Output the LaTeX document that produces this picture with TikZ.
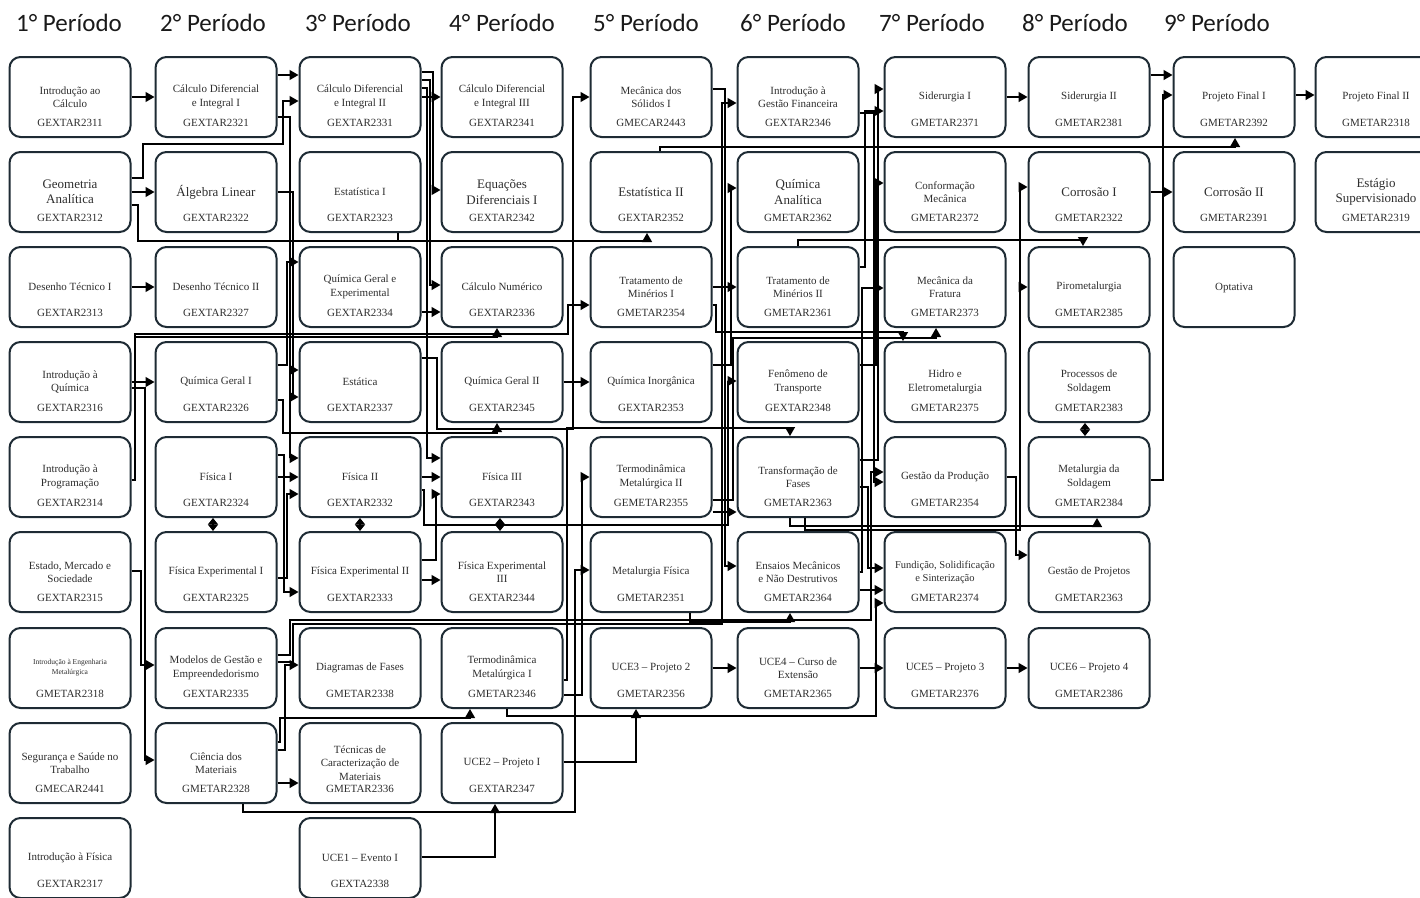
\documentclass[tikz,border=0pt]{standalone}
\usepackage{fontspec}
\setmainfont{Liberation Serif}
\newfontfamily\hdrfont{Carlito}
\usetikzlibrary{arrows.meta}
\definecolor{boxc}{HTML}{1E2B34}
\definecolor{txtc}{HTML}{2E2E2E}
\definecolor{hdrc}{HTML}{1A1A1A}
\newcommand{\crs}[6][]{%
  \node[box] (#2) at (#3,#4) {};
  \node[ttl,#1] (#2t) at (#3,#4) {#5};
  \node[cod] (#2c) at (#3,#4+26) {#6};
}
\begin{document}
\begin{tikzpicture}[x=1pt,y=-1pt,
  box/.style={draw=boxc, line width=2pt, rounded corners=11pt, minimum width=121pt, minimum height=80pt, inner sep=0pt},
  ttl/.style={align=center, font=\fontsize{11}{13.5}\selectfont, text=txtc, inner sep=0pt},
  cod/.style={font=\fontsize{11}{13}\selectfont, text=txtc, inner sep=0pt},
  big/.style={font=\fontsize{13}{15.5}\selectfont},
  tiny/.style={font=\fontsize{7.5}{10}\selectfont},
  arr/.style={line width=1.3pt, -{Triangle[length=9pt,width=10pt]}},
  ln/.style={line width=1.3pt},
  darr/.style={line width=1.3pt, {Triangle[length=6.5pt,width=10pt]}-{Triangle[length=6.5pt,width=10pt]}},
  hdr/.style={font=\hdrfont\fontsize{25}{30}\selectfont, text=hdrc, anchor=base, inner sep=0pt}]
\fill[white] (0,0) rectangle (1420,897);
\useasboundingbox (0,0) rectangle (1420,897);

% headers
\node[hdr] (p1) at (69,31) {1° Período};
\node[hdr] (p2) at (213,31) {2° Período};
\node[hdr] (p3) at (358,31) {3° Período};
\node[hdr] (p4) at (502,31) {4° Período};
\node[hdr] (p5) at (646,31) {5° Período};
\node[hdr] (p6) at (793,31) {6° Período};
\node[hdr] (p7) at (932,31) {7° Período};
\node[hdr] (p8) at (1075,31) {8° Período};
\node[hdr] (p9) at (1217,31) {9° Período};

% column 1
\crs{a1}{70}{97}{Introdução ao\\Cálculo}{GEXTAR2311}
\crs[big]{a2}{70}{192}{Geometria\\Analítica}{GEXTAR2312}
\crs{a3}{70}{287}{Desenho Técnico I}{GEXTAR2313}
\crs{a4}{70}{382}{Introdução à\\Química}{GEXTAR2316}
\crs{a5}{70}{477}{Introdução à\\Programação}{GEXTAR2314}
\crs{a6}{70}{572}{Estado, Mercado e\\Sociedade}{GEXTAR2315}
\crs[tiny]{a7}{70}{668}{Introdução à Engenharia\\Metalúrgica}{GMETAR2318}
\crs{a8}{70}{763}{Segurança e Saúde no\\Trabalho}{GMECAR2441}
\crs{a9}{70}{858}{Introdução à Física}{GEXTAR2317}
% column 2
\crs{b1}{216}{97}{Cálculo Diferencial\\e Integral I}{GEXTAR2321}
\crs[big]{b2}{216}{192}{Álgebra Linear}{GEXTAR2322}
\crs{b3}{216}{287}{Desenho Técnico II}{GEXTAR2327}
\crs{b4}{216}{382}{Química Geral I}{GEXTAR2326}
\crs{b5}{216}{477}{Física I}{GEXTAR2324}
\crs{b6}{216}{572}{Física Experimental I}{GEXTAR2325}
\crs{b7}{216}{668}{Modelos de Gestão e\\Empreendedorismo}{GEXTAR2335}
\crs{b8}{216}{763}{Ciência dos\\Materiais}{GMETAR2328}
% column 3
\crs{c1}{360}{97}{Cálculo Diferencial\\e Integral II}{GEXTAR2331}
\crs{c2}{360}{192}{Estatística I}{GEXTAR2323}
\crs{c3}{360}{287}{Química Geral e\\Experimental}{GEXTAR2334}
\crs{c4}{360}{382}{Estática}{GEXTAR2337}
\crs{c5}{360}{477}{Física II}{GEXTAR2332}
\crs{c6}{360}{572}{Física Experimental II}{GEXTAR2333}
\crs{c7}{360}{668}{Diagramas de Fases}{GMETAR2338}
\crs{c8}{360}{763}{Técnicas de\\Caracterização de\\Materiais}{GMETAR2336}
\crs{c9}{360}{858}{UCE1 – Evento I}{GEXTA2338}
% column 4
\crs{d1}{502}{97}{Cálculo Diferencial\\e Integral III}{GEXTAR2341}
\crs[big]{d2}{502}{192}{Equações\\Diferenciais I}{GEXTAR2342}
\crs{d3}{502}{287}{Cálculo Numérico}{GEXTAR2336}
\crs{d4}{502}{382}{Química Geral II}{GEXTAR2345}
\crs{d5}{502}{477}{Física III}{GEXTAR2343}
\crs{d6}{502}{572}{Física Experimental\\III}{GEXTAR2344}
\crs{d7}{502}{668}{Termodinâmica\\Metalúrgica I}{GMETAR2346}
\crs{d8}{502}{763}{UCE2 – Projeto I}{GEXTAR2347}
% column 5
\crs{e1}{651}{97}{Mecânica dos\\Sólidos I}{GMECAR2443}
\crs[big]{e2}{651}{192}{Estatística II}{GEXTAR2352}
\crs{e3}{651}{287}{Tratamento de\\Minérios I}{GMETAR2354}
\crs{e4}{651}{382}{Química Inorgânica}{GEXTAR2353}
\crs{e5}{651}{477}{Termodinâmica\\Metalúrgica II}{GEMETAR2355}
\crs{e6}{651}{572}{Metalurgia Física}{GMETAR2351}
\crs{e7}{651}{668}{UCE3 – Projeto 2}{GMETAR2356}
% column 6
\crs{f1}{798}{97}{Introdução à\\Gestão Financeira}{GEXTAR2346}
\crs[big]{f2}{798}{192}{Química\\Analítica}{GMETAR2362}
\crs{f3}{798}{287}{Tratamento de\\Minérios II}{GMETAR2361}
\crs{f4}{798}{382}{Fenômeno de\\Transporte}{GEXTAR2348}
\crs{f5}{798}{477}{Transformação de\\Fases}{GMETAR2363}
\crs{f6}{798}{572}{Ensaios Mecânicos\\e Não Destrutivos}{GMETAR2364}
\crs{f7}{798}{668}{UCE4 – Curso de\\Extensão}{GMETAR2365}
% column 7
\crs{g1}{945}{97}{Siderurgia I}{GMETAR2371}
\crs{g2}{945}{192}{Conformação\\Mecânica}{GMETAR2372}
\crs{g3}{945}{287}{Mecânica da\\Fratura}{GMETAR2373}
\crs{g4}{945}{382}{Hidro e\\Eletrometalurgia}{GMETAR2375}
\crs{g5}{945}{477}{Gestão da Produção}{GMETAR2354}
\crs[font=\fontsize{10.5}{13}\selectfont]{g6}{945}{572}{Fundição, Solidificação\\e Sinterização}{GMETAR2374}
\crs{g7}{945}{668}{UCE5 – Projeto 3}{GMETAR2376}
% column 8
\crs{h1}{1089}{97}{Siderurgia II}{GMETAR2381}
\crs[big]{h2}{1089}{192}{Corrosão I}{GMETAR2322}
\crs{h3}{1089}{287}{Pirometalurgia}{GMETAR2385}
\crs{h4}{1089}{382}{Processos de\\Soldagem}{GMETAR2383}
\crs{h5}{1089}{477}{Metalurgia da\\Soldagem}{GMETAR2384}
\crs{h6}{1089}{572}{Gestão de Projetos}{GMETAR2363}
\crs{h7}{1089}{668}{UCE6 – Projeto 4}{GMETAR2386}
% column 9
\crs{i1}{1234}{97}{Projeto Final I}{GMETAR2392}
\crs[big]{i2}{1234}{192}{Corrosão II}{GMETAR2391}
\node[box] (i3) at (1234,287) {};
\node[ttl] (i3t) at (1234,288) {Optativa};
% column 10
\crs{j1}{1376}{97}{Projeto Final II}{GMETAR2318}
\crs[big]{j2}{1376}{192}{Estágio\\Supervisionado}{GMETAR2319}

% ---------- straight connectors
\draw[arr] (a1) -- (b1);
\draw[arr] (a2) -- (b2);
\draw[arr] (a3) -- (b3);
\draw[arr] (a4) -- (b4);
\draw[arr] (b1.east |- 0,75) -- (c1.west |- 0,75);
\draw[arr] (c1) -- (d1);
\draw[arr] (b5) -- (c5);
\draw[arr] (c5) -- (d5);
\draw[arr] (c6.east |- 0,580) -- (d6.west |- 0,580);
\draw[arr] (c3.east |- 0,312) -- (d3.west |- 0,312);
\draw[arr] (d4) -- (e4);
\draw[arr] (e3) -- (f3);
\draw[arr] (e5.east |- 0,512) -- (f5.west |- 0,512);
\draw[arr] (g1) -- (h1);
\draw[arr] (h1.east |- 0,75) -- (i1.west |- 0,75);
\draw[arr] (i1.east |- 0,95) -- (j1.west |- 0,95);
\draw[arr] (h2) -- (i2);
\draw[arr] (e7) -- (f7);
\draw[arr] (f7) -- (g7);
\draw[arr] (g7) -- (h7);
\draw[arr] (b8.east |- 0,783) -- (c8.west |- 0,783);
\draw[arr] (f6.east |- 0,590) -- (g6.west |- 0,590);
\draw[darr] (b5.south -| 213,0) -- (b6.north -| 213,0);
\draw[darr] (c5.south -| 360,0) -- (c6.north -| 360,0);
\draw[darr] (d5.south -| 500,0) -- (d6.north -| 500,0);
\draw[darr] (h4.south -| 1085,0) -- (h5.north -| 1085,0);

% ---------- routed connectors: channel 1-2
\draw[arr] (a2.east |- 0,178) -| (143,144) -| (283,101) -- (c1.west |- 0,101);
\draw[arr] (a4.east |- 0,388) -| (145,760) -- (b8.west |- 0,760);
\draw[arr] (a6.east |- 0,571) -| (141,665) -- (b7.west |- 0,665);
\draw[arr] (a5.east |- 0,480) -| (135,337) -| (d3.south -| 497,0);
\draw[arr] (a5.east |- 0,480) -| (135,334) -| (568,305) -- (e3.west |- 0,305);
\draw[arr] (a2.east |- 0,205) -| (138,241) -| (e2.south -| 647,0);
\draw[ln] (c2.south -| 398,0) -- (398,241);
% channel 2-3
\draw[arr] (b1.east |- 0,117) -| (290,370) -- (c4.west |- 0,370);
\draw[arr] (b1.east |- 0,117) -| (290,458) -- (c5.west |- 0,458);
\draw[arr] (b2.east |- 0,192) -| (293,397) -- (c4.west |- 0,397);
\draw[arr] (b4.east |- 0,365) -| (287,262) -- (c3.west |- 0,262);
\draw[arr] (b4.east |- 0,400) -| (283,433) -| (d4.south -| 497,0);
\draw[arr] (b6.east |- 0,578) -| (287,494) -- (c5.west |- 0,494);
\draw[arr] (b5.east |- 0,455) -| (284,592) -- (c6.west |- 0,592);
\draw[arr] (b8.east |- 0,750) -| (285,665) -- (c7.west |- 0,665);
\draw[arr] (b8.east |- 0,742) -| (280,718) -| (d7.south -| 470,0);
\draw[arr] (b8.south -| 243,0) |- (575,812) |- (e6.west |- 0,570);
\draw[arr] (b7.east |- 0,655) -| (290,620) -| (871,472) -- (g5.west |- 0,472);
\draw[arr] (b7.east |- 0,662) -| (293,624) -| (722,103) -- (f1.west |- 0,103);
% channel 3-4
\draw[arr] (c1.east |- 0,72) -| (433,190) -- (d2.west |- 0,190);
\draw[arr] (c1.east |- 0,80) -| (430,285) -- (d3.west |- 0,285);
\draw[arr] (c1.east |- 0,88) -| (427,458) -- (d5.west |- 0,458);
\draw[arr] (c4.east |- 0,358) -| (437,429) -| (573,97) -- (e1.west |- 0,97);
\draw[arr] (c5.east |- 0,490) -| (424,525) -| (728,381) -- (f4.west |- 0,381);
\draw[arr] (c6.east |- 0,560) -| (436,494) -- (d5.west |- 0,494);
\draw[arr] (c9.east |- 0,857) -| (d8.south -| 495,0);
% channel 4-5
\draw[arr] (d7.east |- 0,695) -| (582,477) -- (e5.west |- 0,477);
\draw[arr] (d7.east |- 0,680) -| (567,428) -| (f5.north -| 790,0);
\draw[arr] (d8.east |- 0,762) -| (e7.south -| 636,0);
\draw[arr] (d7.south -| 507,0) |- (876,716) |- (g6.west |- 0,603);
% channel 5-6
\draw[arr] (e1.east |- 0,89) -| (725,566) -- (f6.west |- 0,566);
\draw[arr] (e2.north -| 660,0) |- (1235,147) -- (i1.south -| 1235,0);
\draw[arr] (e4.east |- 0,365) -| (731,188) -- (f2.west |- 0,188);
\draw[arr] (e5.east |- 0,500) -| (733,338) -| (g3.south -| 936,0);
\draw[arr] (e3.east |- 0,305) -| (716,332) -| (g4.north -| 903,0);
\draw[arr] (e6.south -| 690,0) |- (790,622) -- (f6.south -| 790,0);
% channel 6-7
\draw[arr] (f6.east |- 0,572) -| (862,288) -- (g3.west |- 0,288);
\draw[arr] (f3.east |- 0,267) -| (865,111) -- (g1.west |- 0,111);
\draw[arr] (f5.east |- 0,487) -| (868,568) -- (g6.west |- 0,568);
\draw[arr] (f1.east |- 0,113) -| (874,482) -- (g5.west |- 0,482);
\draw[arr] (f4.east |- 0,365) -| (876,183) -- (g2.west |- 0,183);
\draw[arr] (f5.east |- 0,460) -| (878,89) -- (g1.west |- 0,89);
% channel 7-8
\draw[arr] (g5.east |- 0,477) -| (1016,555) -- (h6.west |- 0,555);
\draw[arr] (f5.south -| 805,0) |- (1020,530) |- (h2.west |- 0,187);
\draw[arr] (f5.south -| 805,0) |- (1020,530) |- (h3.west |- 0,287);
\draw[arr] (f5.south -| 790,0) |- (1097,526) -- (h5.south -| 1097,0);
\draw[arr] (f3.north -| 798,0) |- (1083,240) -- (h3.north -| 1083,0);
% channel 8-9
\draw[arr] (h5.east |- 0,480) -| (1163,95) -- (i1.west |- 0,95);
\end{tikzpicture}
\end{document}
